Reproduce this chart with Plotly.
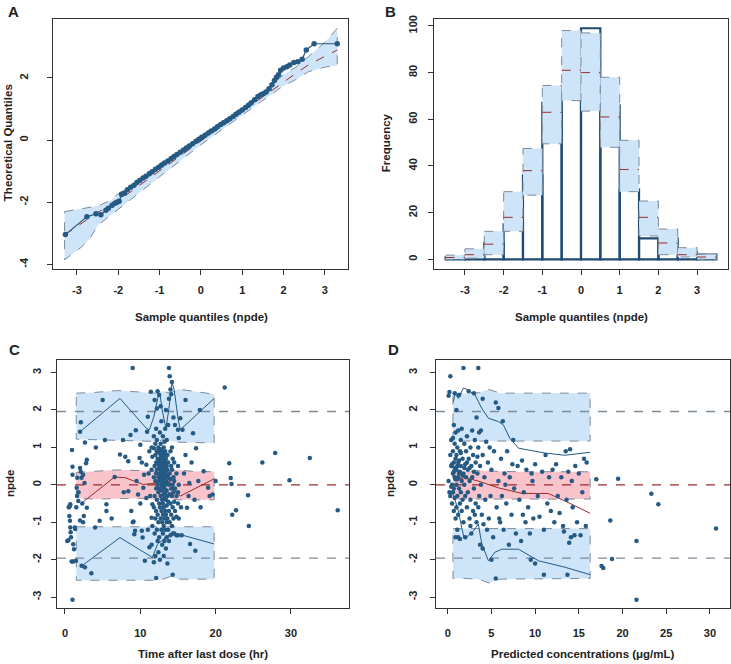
import plotly.graph_objects as go

W, H = 731, 664

# ---------------- Panel A: QQ plot ----------------
qq_sample = [-3.28, -2.76, -2.54, -2.42, -2.30, -2.24, -2.15, -2.08, -2.03, -1.98,
             -1.92, -1.85, -1.78, -1.70, -1.62, -1.55, -1.48, -1.40, -1.33, -1.25,
             -1.18, -1.10, -1.02, -0.95, -0.88, -0.80, -0.72, -0.65, -0.58, -0.50,
             -0.42, -0.35, -0.28, -0.20, -0.12, -0.05, 0.02, 0.10, 0.18, 0.25,
             0.33, 0.40, 0.48, 0.55, 0.63, 0.70, 0.78, 0.85, 0.92, 1.00,
             1.08, 1.15, 1.22, 1.30, 1.38, 1.45, 1.52, 1.58, 1.65, 1.72,
             1.78, 1.83, 1.88, 1.93, 2.00, 2.08, 2.15, 2.25, 2.35, 2.45,
             2.55, 2.74, 3.30]
qq_theo = [-3.04, -2.47, -2.37, -2.40, -2.26, -2.19, -2.10, -2.03, -2.00, -1.97,
           -1.75, -1.70, -1.60, -1.52, -1.45, -1.36, -1.30, -1.22, -1.16, -1.08,
           -1.02, -0.94, -0.87, -0.80, -0.74, -0.67, -0.59, -0.53, -0.46, -0.39,
           -0.32, -0.25, -0.19, -0.12, -0.04, 0.03, 0.09, 0.16, 0.23, 0.29,
           0.36, 0.43, 0.50, 0.56, 0.62, 0.69, 0.76, 0.83, 0.90, 0.97,
           1.05, 1.12, 1.20, 1.30, 1.40, 1.46, 1.50, 1.55, 1.65, 1.78,
           1.92, 2.02, 2.10, 2.25, 2.32, 2.36, 2.42, 2.50, 2.52, 2.60,
           2.90, 3.10, 3.10]
qq_band_x = [-3.30, -2.90, -2.70, -2.50, -2.20, -2.00, -1.50, -1.00, 0.00, 1.00, 1.50, 2.00, 2.30, 2.60, 3.00, 3.30]
qq_band_hi = [-2.30, -2.22, -2.17, -2.12, -1.95, -1.72, -1.30, -0.82, 0.12, 1.05, 1.55, 2.10, 2.35, 2.68, 3.15, 3.60]
qq_band_lo = [-3.85, -3.45, -3.20, -2.75, -2.45, -2.25, -1.70, -1.18, -0.15, 0.80, 1.28, 1.75, 1.95, 2.20, 2.35, 2.40]
qq_band_med = [-3.05, -2.68, -2.50, -2.33, -2.10, -1.95, -1.47, -0.98, -0.03, 0.92, 1.40, 1.88, 2.15, 2.42, 2.70, 2.90]

# ---------------- Panel B: histogram ----------------
hist_centers = [-3.25, -2.75, -2.25, -1.75, -1.25, -0.75, -0.25, 0.25, 0.75, 1.25, 1.75, 2.25, 2.75, 3.25]
hist_counts = [1, 1, 7, 15, 36, 67, 74, 99, 66, 30, 9, 9, 3, 2]
hist_pi_lo = [0.0, 0.5, 2.0, 12.0, 27.5, 49.5, 68.0, 63.5, 48.0, 29.0, 10.0, 2.0, 1.0, 0.0]
hist_pi_med = [0.8, 2.0, 6.5, 18.0, 38.0, 63.0, 81.0, 80.0, 61.0, 38.5, 18.0, 7.0, 2.0, 1.0]
hist_pi_hi = [1.8, 4.5, 12.0, 29.0, 47.5, 74.5, 98.0, 97.0, 78.0, 51.0, 25.0, 13.0, 5.0, 2.2]

# ---------------- Panel C: npde vs time ----------------
c_obs = [
    (0.3, -1.5), (0.44, -1.48), (0.5, -0.6), (0.6, -0.58), (0.66, -0.55), (0.7, -0.52), (0.58, -0.83),
    (0.66, -0.96), (0.7, -1.14), (0.75, -1.27), (0.8, -1.4), (0.88, -2.05), (1.0, -3.07), (0.93, 0.93),
    (1.0, 0.48), (1.0, 0.27), (1.1, -1.59), (1.2, -1.72), (1.3, -1.14), (1.1, -2.05), (1.46, -2.03),
    (1.35, -1.18), (1.5, -0.6), (1.55, -0.08), (1.64, 0.19), (1.6, -0.3), (1.77, -0.43), (1.8, -0.2),
    (2.0, 1.42), (2.1, 1.67), (2.0, 0.45), (2.2, 0.19), (2.4, 0.27), (2.1, 0.35), (2.5, -0.83),
    (2.2, -2.16), (2.65, -2.2), (2.8, 0.58), (2.9, 0.67), (2.65, 1.13), (2.9, -0.61), (2.3, -0.5),
    (2.6, 0.05), (2.0, -0.95), (2.4, -1.0),
    (3.5, -2.36), (4.0, -1.14), (4.1, 1.0), (4.6, -0.96), (5.0, 2.27), (5.3, 1.2), (5.5, -0.52),
    (5.5, -0.70), (7.3, 0.81), (6.6, 0.21), (7.7, 1.2), (8.4, 0.63), (8.4, -0.17), (8.8, -0.70),
    (8.7, 1.33), (8.98, 3.12), (9.1, -0.98), (9.2, -1.32), (9.3, -1.23), (9.4, 1.46), (9.5, 0.10),
    (9.7, -0.26), (9.9, 0.72), (10.0, 1.07), (10.2, -1.23), (10.3, -1.41), (10.4, -0.08), (10.5, 0.27),
    (10.6, -2.03), (10.8, -0.35), (10.8, 0.54), (10.9, 1.42), (11.0, 1.82), (11.2, -1.67), (11.4, 2.49),
    (8.0, 0.75), (7.8, -0.2), (6.2, -0.9), (9.0, -1.0), (10.0, -0.5), (10.2, 0.6), (11.0, -1.2),
    (11.1, 0.3), (11.2, 0.9), (11.3, -0.3),
    (11.5, -0.88), (11.5, 0.4), (11.5, 1.0), (11.5, -1.6),
    (11.6, -0.52), (11.6, 0.75), (11.6, -1.1),
    (11.8, 0.98), (11.8, -2.07), (11.8, 0.2), (11.8, -0.6), (11.8, 1.3),
    (11.9, 2.27), (11.9, 0.5), (11.9, -0.3), (11.9, -1.3),
    (12.0, 0.8), (12.0, -0.9), (12.0, 1.1), (12.0, 0.1), (12.0, -1.9),
    (12.1, -2.49), (12.1, 0.6), (12.1, 0.3), (12.1, -0.1), (12.1, -0.7), (12.1, 1.5),
    (12.2, 2.04), (12.2, 0.9), (12.2, 0.4), (12.2, -0.4), (12.2, -1.2), (12.2, 1.2),
    (12.3, 0.7), (12.3, 0.0), (12.3, -0.8), (12.3, -1.5), (12.3, 2.5),
    (12.4, 0.2), (12.4, 0.55), (12.4, 1.0), (12.4, -0.2), (12.4, -1.0), (12.4, -1.8),
    (12.5, 0.45), (12.5, 0.65), (12.5, 0.85), (12.5, 0.1), (12.5, -0.5), (12.5, -1.4), (12.5, 2.4),
    (12.6, 0.3), (12.6, 0.5), (12.6, 0.7), (12.6, 0.95), (12.6, -0.1), (12.6, -0.6), (12.6, -2.0), (12.6, 1.4),
    (12.7, 0.2), (12.7, 0.4), (12.7, 0.6), (12.7, 0.8), (12.7, 1.1), (12.7, -0.3), (12.7, -0.9), (12.7, 2.1),
    (12.8, 0.0), (12.8, 0.35), (12.8, 0.55), (12.8, 0.75), (12.8, -0.15), (12.8, -0.7), (12.8, -1.2), (12.8, 1.7),
    (12.9, 0.1), (12.9, 0.3), (12.9, 0.5), (12.9, 0.7), (12.9, 0.9), (12.9, -0.4), (12.9, -1.0), (12.9, -1.6),
    (13.0, 0.2), (13.0, 0.45), (13.0, 0.6), (13.0, 0.85), (13.0, -0.05), (13.0, -0.5), (13.0, -0.8), (13.0, -1.3), (13.0, 1.3),
    (13.1, 0.05), (13.1, 0.25), (13.1, 0.5), (13.1, 0.65), (13.1, 1.0), (13.1, -0.25), (13.1, -0.6), (13.1, -1.1), (13.1, -1.9),
    (13.2, 0.15), (13.2, 0.4), (13.2, 0.55), (13.2, 0.8), (13.2, -0.1), (13.2, -0.35), (13.2, -0.9), (13.2, -1.5), (13.2, 1.15),
    (13.3, 0.0), (13.3, 0.3), (13.3, 0.6), (13.3, 0.9), (13.3, -0.2), (13.3, -0.7), (13.3, -1.2), (13.3, 1.5),
    (13.4, 0.1), (13.4, 0.35), (13.4, 0.7), (13.4, -0.4), (13.4, -0.8), (13.4, -1.7), (13.4, 2.0),
    (13.5, 0.25), (13.5, 0.5), (13.5, -0.15), (13.5, -0.55), (13.5, -1.0), (13.5, -1.4), (13.5, 1.2),
    (13.6, 0.05), (13.6, 0.4), (13.6, 0.8), (13.6, -0.3), (13.6, -0.9), (13.6, -2.1),
    (13.7, 0.2), (13.7, -0.45), (13.7, -1.2), (13.7, 0.6), (13.7, 1.6),
    (13.8, 3.12), (13.8, 0.0), (13.8, -0.7), (13.8, -1.5), (13.8, 2.3),
    (13.9, 2.9), (13.9, 0.3), (13.9, -0.25), (13.9, -1.0),
    (14.0, 2.55), (14.0, 0.15), (14.0, -0.5), (14.0, 0.9), (14.0, -1.35),
    (14.1, 2.42), (14.1, -0.1), (14.1, -0.8), (14.1, 0.5),
    (14.2, 2.75), (14.2, 0.4), (14.2, -0.3), (14.2, -1.1), (14.2, 1.0),
    (14.3, 0.0), (14.3, -0.6), (14.3, -1.3), (14.3, 0.7), (14.3, -2.4),
    (14.4, -0.2), (14.4, 0.2), (14.4, -0.9), (14.4, 1.8),
    (14.5, 0.1), (14.5, -0.45), (14.5, -1.3), (14.5, 0.6),
    (14.6, -0.1), (14.6, -0.7), (14.6, 1.6),
    (14.8, 0.3), (14.8, -0.3), (14.8, -1.35), (14.8, -0.85),
    (15.0, -0.2), (15.0, 0.5), (15.0, -0.5), (15.0, -1.35), (15.0, 1.47),
    (15.1, 1.25), (15.1, 0.0), (15.1, -0.9),
    (15.3, 1.78), (15.6, 1.47), (16.0, 2.27), (16.2, -0.61), (16.4, -0.3), (16.6, -1.58), (17.0, 1.38),
    (17.3, -1.76), (17.4, 0.98), (17.9, 2.0), (17.7, 0.10), (18.4, 0.36), (19.0, -0.08), (19.6, -0.26),
    (20.0, 0.10), (15.5, -1.35), (15.8, 0.3), (16.0, 0.8), (16.5, 0.05), (17.2, -0.4), (18.0, -0.6),
    (19.2, -0.3), (15.4, -0.6), (16.8, 0.6),
    (21.2, 2.6), (21.8, 0.58), (22.0, 0.18), (22.1, 0.02), (22.2, -0.8), (22.7, -0.68), (24.3, -0.28),
    (24.4, -1.1), (26.2, 0.6), (27.9, 0.85), (29.8, 0.12), (32.5, 0.72), (36.2, -0.68),
]
c_time = [p[0] for p in c_obs]
c_npde = [p[1] for p in c_obs]

c_band_x = [1.5, 4.0, 7.0, 10.0, 12.0, 13.0, 14.0, 15.0, 17.0, 19.8]
c_up_hi = [2.45, 2.47, 2.52, 2.48, 2.45, 2.50, 2.45, 2.56, 2.50, 2.42]
c_up_lo = [1.22, 1.20, 1.18, 1.17, 1.16, 1.20, 1.18, 1.14, 1.13, 1.12]
c_md_hi = [0.33, 0.36, 0.40, 0.38, 0.36, 0.38, 0.37, 0.40, 0.36, 0.35]
c_md_lo = [-0.36, -0.38, -0.38, -0.36, -0.40, -0.38, -0.36, -0.40, -0.40, -0.40]
c_lw_hi = [-1.12, -1.12, -1.12, -1.12, -1.14, -1.13, -1.12, -1.13, -1.12, -1.12]
c_lw_lo = [-2.55, -2.55, -2.53, -2.55, -2.55, -2.52, -2.45, -2.52, -2.52, -2.52]

c_p95_x = [2.0, 7.3, 10.8, 11.2, 11.8, 12.4, 12.6, 12.9, 13.4, 13.8, 14.2, 14.5, 15.0, 15.3, 19.8]
c_p95_y = [1.42, 2.31, 1.51, 1.47, 1.82, 2.40, 2.44, 2.00, 1.51, 2.04, 2.75, 2.53, 1.78, 1.47, 2.31]
c_p50_x = [2.0, 6.6, 8.0, 10.4, 12.2, 13.1, 13.7, 14.4, 15.3, 19.8]
c_p50_y = [-0.52, 0.21, 0.19, 0.01, 0.05, 0.14, 0.19, -0.12, -0.30, 0.16]
c_p05_x = [2.0, 7.3, 11.6, 12.3, 13.1, 14.0, 15.5, 19.8]
c_p05_y = [-2.20, -1.41, -1.94, -1.58, -1.45, -1.32, -1.34, -1.58]

# ---------------- Panel D: npde vs predicted concentration ----------------
d_obs = [
    (0.1, 2.38), (0.2, 2.48), (0.3, 2.9), (0.1, 0.1), (0.2, -0.2), (0.3, 0.8), (0.3, -0.3), (0.4, 1.2),
    (0.4, 0.5), (0.5, 0.0), (0.5, -0.5), (0.6, 0.9), (0.6, 0.3), (0.6, -0.2), (0.7, 1.6), (0.7, 0.6),
    (0.7, -0.1), (0.7, -0.7), (0.8, 2.45), (0.8, 1.1), (0.8, 0.2), (0.8, -0.35), (0.9, 0.7), (0.9, -0.9),
    (0.9, 1.4), (1.0, 0.4), (1.0, 0.0), (1.0, -0.6), (1.0, 2.0), (0.9, -1.4), (1.2, -1.4),
    (1.1, 1.0), (1.1, 0.15), (1.1, -0.3), (1.1, -1.2), (1.2, 0.6), (1.2, 1.45), (1.2, -0.8), (1.3, 0.3),
    (1.3, -0.1), (1.3, 2.4), (1.4, 0.9), (1.4, -0.5), (1.4, -1.45), (1.5, 0.5), (1.5, 1.2), (1.5, -0.2),
    (1.6, 0.1), (1.6, -0.7), (1.6, 1.5), (1.7, 0.7), (1.7, -0.4), (1.8, 3.12), (1.8, 0.3), (1.8, -1.0),
    (1.9, 1.1), (1.9, 0.0), (2.0, 0.55), (2.0, -0.3), (2.0, -1.4),
    (0.5, 0.55), (0.6, 1.25), (0.8, 0.45), (1.0, 0.8), (1.3, 0.65), (1.5, 0.85), (1.7, 0.25), (0.4, -0.05),
    (0.9, 0.15), (1.1, 0.5), (1.4, 0.35), (1.9, 0.45), (0.7, 0.35), (1.2, 0.2), (2.2, 0.6), (2.5, 0.45),
    (2.1, 0.9), (2.1, 0.2), (2.2, -0.6), (2.2, 1.3), (2.3, 0.4), (2.3, -0.2), (2.4, 2.5), (2.4, 0.7),
    (2.5, -0.9), (2.5, 0.1), (2.6, 1.0), (2.6, -0.4), (2.7, 0.5), (2.7, -1.3), (2.8, 1.45), (2.8, 0.2),
    (2.9, -0.7), (2.9, 0.8), (3.0, 0.35), (3.0, -0.1), (3.0, 2.45), (3.1, 1.2), (3.2, -0.5), (3.2, 0.6),
    (3.3, 1.8), (3.3, -1.0), (3.4, 0.3), (3.5, 3.12), (3.5, -0.6), (3.5, 1.0), (3.6, 1.4), (3.6, -0.3),
    (3.7, 0.5), (3.7, -1.6), (3.8, 1.45), (3.8, 0.0), (3.9, -0.8), (4.0, 2.3), (4.0, 0.8), (4.0, -1.7),
    (4.2, 0.2), (4.3, -0.4), (4.4, 1.15), (4.5, -1.2), (4.6, 0.6), (4.7, -0.9), (4.8, 1.0), (4.9, -0.3),
    (5.0, 0.4), (5.0, -2.0), (3.1, -0.8), (2.6, -1.1), (4.1, -1.05), (3.4, 0.75),
    (5.2, -1.4), (5.3, 0.9), (5.5, 2.2), (5.5, -2.5), (5.6, -0.6), (5.8, 2.05), (5.8, 0.1), (6.0, -1.0),
    (6.1, 0.7), (6.2, -0.3), (6.3, 1.7), (6.4, -1.2), (6.5, 0.3), (6.7, -0.5), (6.8, 0.9), (7.0, -1.6),
    (7.1, 0.2), (7.3, -0.8), (7.5, 1.2), (7.6, -0.1), (7.8, -1.3), (8.0, 0.5), (8.2, -0.4), (8.4, -1.5),
    (8.5, 0.65), (8.7, -0.2), (8.9, -1.0), (9.0, 0.4), (9.2, -0.6), (9.4, -1.3), (9.5, -2.0), (9.7, 0.1),
    (9.8, -0.9), (10.0, 0.55), (10.0, -2.1), (5.9, -0.9), (6.6, 0.0), (7.4, 0.55), (8.6, -0.8), (9.6, 0.3),
    (10.3, -0.3), (10.5, -0.85), (10.8, 0.35), (11.0, -1.2), (11.0, -2.4), (11.2, 0.8), (11.4, -0.5),
    (11.6, 0.2), (11.8, -0.7), (12.0, 0.4), (12.2, -1.0), (12.4, 0.55), (12.6, -0.3), (12.8, -0.75),
    (13.0, 0.2), (13.2, -1.1), (13.3, -1.25), (13.5, 0.9), (13.6, -0.4), (13.7, -2.4), (13.8, 0.35),
    (13.9, -1.55), (14.0, 0.95), (14.1, -1.4), (14.2, 0.1), (14.3, -0.6), (14.5, -1.35), (14.6, 0.5),
    (14.8, -1.0), (15.0, 0.3), (15.2, -1.35), (15.4, -0.2), (15.6, 0.7), (15.8, -1.1), (15.9, 0.6),
    (17.0, 0.15), (17.6, -2.17), (17.8, -2.22), (18.6, -0.95), (18.8, -1.98), (19.5, 0.16), (21.6, -1.5),
    (21.6, -3.07), (23.3, -0.24), (24.1, -0.52), (30.7, -1.17),
]
d_conc = [p[0] for p in d_obs]
d_npde = [p[1] for p in d_obs]

d_band_x = [0.6, 2.0, 3.5, 4.7, 6.0, 8.0, 10.0, 12.0, 14.0, 16.3]
d_up_hi = [2.45, 2.44, 2.46, 2.55, 2.45, 2.45, 2.45, 2.45, 2.45, 2.45]
d_up_lo = [1.17, 1.17, 1.17, 1.17, 1.17, 1.17, 1.17, 1.17, 1.17, 1.17]
d_md_hi = [0.35, 0.35, 0.38, 0.38, 0.36, 0.35, 0.35, 0.35, 0.35, 0.35]
d_md_lo = [-0.38, -0.38, -0.38, -0.38, -0.38, -0.38, -0.38, -0.38, -0.38, -0.38]
d_lw_hi = [-1.17, -1.17, -1.17, -1.17, -1.17, -1.17, -1.17, -1.17, -1.17, -1.17]
d_lw_lo = [-2.50, -2.50, -2.52, -2.62, -2.52, -2.50, -2.50, -2.50, -2.50, -2.50]

d_p95_x = [0.65, 0.84, 1.22, 1.8, 2.37, 3.13, 3.9, 4.66, 5.8, 6.37, 7.1, 8.1, 11.1, 13.4, 16.3]
d_p95_y = [2.22, 2.44, 2.31, 2.59, 2.53, 2.40, 2.04, 1.78, 1.69, 1.60, 1.25, 0.98, 0.85, 0.79, 0.87]
d_p50_x = [0.65, 2.0, 3.5, 5.8, 8.5, 11.5, 13.4, 16.3]
d_p50_y = [0.14, 0.19, 0.10, -0.08, -0.23, -0.23, -0.43, -0.76]
d_p05_x = [0.65, 1.22, 1.6, 1.87, 2.37, 2.94, 3.5, 3.9, 4.66, 5.4, 6.2, 8.1, 10.4, 13.4, 16.3]
d_p05_y = [-0.26, -0.70, -1.14, -1.41, -1.36, -1.23, -1.05, -1.58, -2.03, -1.80, -1.72, -1.72, -2.03, -2.20, -2.40]

ref_levels = [-1.96, 0.0, 1.96]

# tick values (labels drawn with R-style hyphen minus)
ticks_qq = [-3, -2, -1, 0, 1, 2, 3]
ticks_a_y = [-4, -2, 0, 2]
ticks_b_y = [0, 20, 40, 60, 80, 100]
ticks_c_x = [0, 10, 20, 30]
ticks_d_x = [0, 5, 10, 15, 20, 25, 30]
ticks_npde = [-3, -2, -1, 0, 1, 2, 3]

# ---------------- styles ----------------
BLUE_FILL = "#cde4f9"
PINK_FILL = "#f9c3cc"
EDGE = "#7d8b99"
DARK = "#245a83"
RED = "#9b2c2c"
FONT = "Liberation Sans, Arial, sans-serif"

fig = go.Figure()


def band(x, lo, hi, fill, xa, ya):
    fig.add_trace(go.Scatter(
        x=list(x) + list(x)[::-1] + [x[0]], y=list(hi) + list(lo)[::-1] + [hi[0]],
        mode="lines", fill="toself", fillcolor=fill,
        line=dict(color=EDGE, width=1, dash="dash"),
        xaxis=xa, yaxis=ya, hoverinfo="skip", showlegend=False))


def line(x, y, color, xa, ya, dash="solid", width=1, mode="lines", msize=4):
    fig.add_trace(go.Scatter(
        x=x, y=y, mode=mode, line=dict(color=color, width=width, dash=dash),
        marker=dict(color=color, size=msize), xaxis=xa, yaxis=ya,
        hoverinfo="skip", showlegend=False))


# Panel A
band(qq_band_x, qq_band_lo, qq_band_hi, BLUE_FILL, "x", "y")
line(qq_band_x, qq_band_med, RED, "x", "y", dash="dash", width=1)
line(qq_sample, qq_theo, DARK, "x", "y", width=1.2, mode="lines+markers", msize=5.5)

# Panel B
for i, c in enumerate(hist_centers):
    x0, x1 = c - 0.25, c + 0.25
    band([x0, x1], [hist_pi_lo[i]] * 2, [hist_pi_hi[i]] * 2, BLUE_FILL, "x2", "y2")
    line([x0, x1], [hist_pi_med[i]] * 2, RED, "x2", "y2", dash="dash")
fig.add_trace(go.Bar(x=hist_centers, y=hist_counts, width=0.5,
                     marker=dict(color="rgba(0,0,0,0)", line=dict(color="#1f4a73", width=2.2)),
                     xaxis="x2", yaxis="y2", showlegend=False, hoverinfo="skip"))

# Panel C
band(c_band_x, c_up_lo, c_up_hi, BLUE_FILL, "x3", "y3")
band(c_band_x, c_md_lo, c_md_hi, PINK_FILL, "x3", "y3")
band(c_band_x, c_lw_lo, c_lw_hi, BLUE_FILL, "x3", "y3")
C_XR = [-1.06, 37.7]
for lv in ref_levels:
    line(C_XR, [lv, lv], RED if lv == 0 else EDGE, "x3", "y3", dash="dash", width=1.3)
line(c_p95_x, c_p95_y, DARK, "x3", "y3")
line(c_p50_x, c_p50_y, RED, "x3", "y3")
line(c_p05_x, c_p05_y, DARK, "x3", "y3")
fig.add_trace(go.Scatter(x=c_time, y=c_npde, mode="markers",
                         marker=dict(color=DARK, size=4.5), xaxis="x3", yaxis="y3",
                         showlegend=False, hoverinfo="skip"))

# Panel D
band(d_band_x, d_up_lo, d_up_hi, BLUE_FILL, "x4", "y4")
band(d_band_x, d_md_lo, d_md_hi, PINK_FILL, "x4", "y4")
band(d_band_x, d_lw_lo, d_lw_hi, BLUE_FILL, "x4", "y4")
D_XR = [-1.34, 32.3]
for lv in ref_levels:
    line(D_XR, [lv, lv], RED if lv == 0 else EDGE, "x4", "y4", dash="dash", width=1.3)
line(d_p95_x, d_p95_y, DARK, "x4", "y4")
line(d_p50_x, d_p50_y, RED, "x4", "y4")
line(d_p05_x, d_p05_y, DARK, "x4", "y4")
fig.add_trace(go.Scatter(x=d_conc, y=d_npde, mode="markers",
                         marker=dict(color=DARK, size=4.5), xaxis="x4", yaxis="y4",
                         showlegend=False, hoverinfo="skip"))


def xdom(l, r):
    return [l / W, r / W]


def ydom(t, b):
    return [1 - b / H, 1 - t / H]


tickfont = dict(family=FONT, size=11, color="#222", weight="bold")


def axis(dom, rng, tickvals, anchor, is_y, standoff):
    d = dict(domain=dom, range=rng, tickvals=tickvals,
             ticktext=[str(v) for v in tickvals], anchor=anchor,
             showline=True, mirror=True, linecolor="#333", linewidth=1,
             ticks="outside", ticklen=5, tickcolor="#333",
             showgrid=False, zeroline=False, tickfont=tickfont,
             ticklabelstandoff=standoff)
    if is_y:
        d["tickangle"] = -90
    return d


fig.update_layout(
    width=W, height=H, margin=dict(l=0, r=0, t=0, b=0),
    paper_bgcolor="white", plot_bgcolor="white", showlegend=False,
    xaxis=axis(xdom(53, 348), [-3.58, 3.56], ticks_qq, "y", False, 5),
    yaxis=axis(ydom(15, 267), [-4.16, 3.9], ticks_a_y, "x", True, 15),
    xaxis2=axis(xdom(434, 728), [-3.8, 3.8], ticks_qq, "y2", False, 5),
    yaxis2=axis(ydom(15, 267), [-4.3, 103], ticks_b_y, "x2", True, 7),
    xaxis3=axis(xdom(57, 349), C_XR, ticks_c_x, "y3", False, 9),
    yaxis3=axis(ydom(358, 608), [-3.3, 3.34], ticks_npde, "x3", True, 6),
    xaxis4=axis(xdom(436, 730), D_XR, ticks_d_x, "y4", False, 9),
    yaxis4=axis(ydom(358, 608), [-3.3, 3.34], ticks_npde, "x4", True, 9),
)


def ann(text, px, py, size=11.5, angle=0):
    fig.add_annotation(text=text, x=px / W, y=1 - py / H, xref="paper", yref="paper",
                       showarrow=False, textangle=angle, xanchor="center", yanchor="middle",
                       font=dict(family=FONT, size=size, color="#222", weight="bold"))


ann("Sample quantiles (npde)", 201, 315)
ann("Theoretical Quantiles", 8, 140, angle=-90)
ann("Sample quantiles (npde)", 581, 315)
ann("Frequency", 386, 140, angle=-90)
ann("Time after last dose (hr)", 203, 654)
ann("npde", 10, 483, angle=-90)
ann("Predicted concentrations (\u03bcg/mL)", 583, 654)
ann("npde", 390, 483, angle=-90)
ann("A", 13, 8, size=15)
ann("B", 390, 8, size=15)
ann("C", 14, 348, size=15)
ann("D", 393, 348, size=15)

fig.write_html("out.html", config={"displayModeBar": False},
               post_script="document.body.style.margin='0';document.body.style.overflow='hidden';")
